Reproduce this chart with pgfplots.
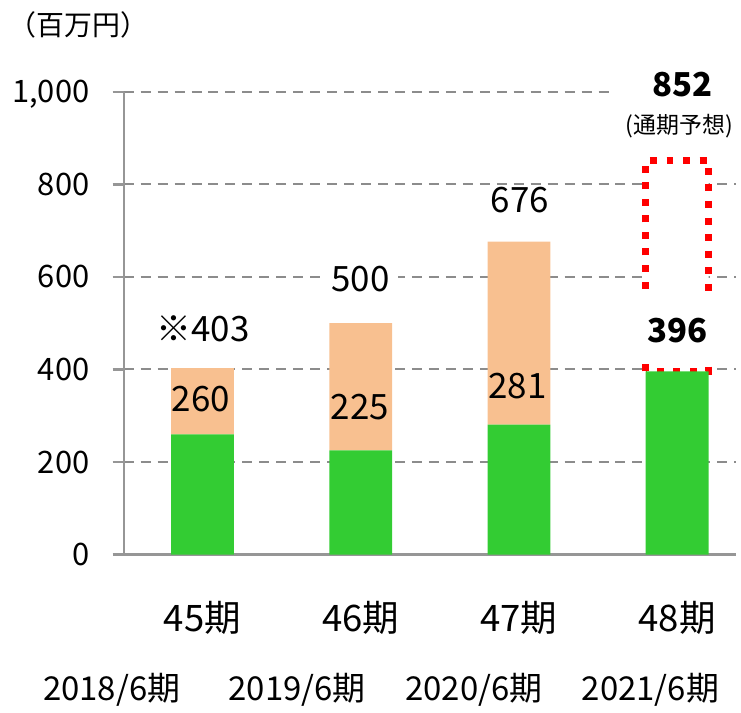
\documentclass[border=0pt]{standalone}
\usepackage{fontspec}
\setmainfont{Noto Sans CJK JP}
\usepackage{pgfplots}
\pgfplotsset{compat=1.18}
\definecolor{bargreen}{RGB}{51,204,51}
\definecolor{barpeach}{RGB}{248,192,144}
\definecolor{gridgray}{RGB}{140,140,140}
\definecolor{axgray}{RGB}{150,150,150}
\begin{document}
\begin{tikzpicture}
\begin{axis}[
  scale only axis, width=307pt, height=232pt,
  xmin=-0.498, xmax=3.373, ymin=0, ymax=1000,
  clip=false,
  ybar stacked, bar width=31.5pt,
  axis x line*=bottom, axis y line*=left,
  axis line style={axgray, line width=1.2pt},
  xtick={0,1,2,3}, xticklabels={45期,46期,47期,48期},
  xticklabel style={anchor=base, yshift=-33pt, font=\fontsize{18.3}{20}\selectfont},
  major x tick style={draw=none},
  ytick={0,200,400,600,800,1000},
  tick align=outside, major tick length=5.5pt,
  major y tick style={axgray, line width=1.2pt},
  ymajorgrids, major grid style={gridgray, line width=1pt, dash pattern=on 5pt off 3.5pt},
  yticklabel style={anchor=base east, inner sep=0pt, xshift=-11.5pt, yshift=-5.5pt, font=\fontsize{15.5}{18}\selectfont},
  /pgf/number format/assume math mode=true,
  /pgf/number format/1000 sep={,},
]
\addplot[fill=bargreen, draw=none] coordinates {(0,260) (1,225) (2,281) (3,396)};
\addplot[fill=barpeach, draw=none] coordinates {(0,143) (1,275) (2,395) (3,0)};
\addplot[sharp plot, stack plots=false, fill=white, draw=red, line width=3.5pt, dash pattern=on 3.5pt off 4.8pt, line cap=butt]
  coordinates {(2.8014,396) (2.8014,852) (3.1986,852) (3.1986,396) (2.8014,396)};

\coordinate (gap) at (axis cs:3,484);
\coordinate (l403) at (axis cs:0.003,461);
\coordinate (l260) at (axis cs:-0.01,310);
\coordinate (l225) at (axis cs:0.995,291);
\coordinate (l281) at (axis cs:1.99,338);
\coordinate (l500) at (axis cs:0.999,569);
\coordinate (l676) at (axis cs:2.005,739);
\coordinate (l396) at (axis cs:3.005,459);
\coordinate (l852) at (axis cs:3.035,989);
\coordinate (l852box) at (axis cs:3.0,989);
\coordinate (lfc) at (axis cs:3.014,909);
\coordinate (lunit) at (axis cs:-0.782,1121);
\coordinate (y1) at (axis cs:-0.574,-314.7);
\coordinate (y2) at (axis cs:0.599,-314.7);
\coordinate (y3) at (axis cs:1.715,-314.7);
\coordinate (y4) at (axis cs:2.831,-314.7);
\coordinate (bbA) at (axis cs:-1.2799,-318.97);
\coordinate (bbB) at (axis cs:3.3922,1198.3);
\end{axis}

% white gap behind 396
\node[fill=white, inner sep=0pt, minimum width=42pt, minimum height=33pt] at (gap) {};

\tikzset{dl/.style={anchor=base, font=\fontsize{17.5}{19}\selectfont}}
\node[dl] at (l403) {※403};
\node[dl] at (l260) {260};
\node[dl] at (l225) {225};
\node[dl] at (l281) {281};
\node[dl, fill=white, inner xsep=4pt, inner ysep=1pt, text height=12.5pt, text depth=0pt] at (l500) {500};
\node[dl] at (l676) {676};
\node[anchor=base, font=\bfseries\fontsize{16.5}{18}\selectfont] at (l396) {396};
\node[anchor=base, fill=white, minimum width=64pt, inner sep=0pt, text height=12.5pt, text depth=0pt] at (l852box) {};
\node[anchor=base, font=\bfseries\fontsize{16.5}{18}\selectfont] at (l852) {852};
\node[anchor=base, font=\fontsize{11.5}{13}\selectfont] at (lfc) {(通期予想)};

\node[anchor=base, font=\fontsize{14}{16}\selectfont] at (lunit) {（百万円）};

\tikzset{yl/.style={anchor=base, font=\fontsize{16.5}{19}\selectfont}}
\node[yl] at (y1) {2018/6期};
\node[yl] at (y2) {2019/6期};
\node[yl] at (y3) {2020/6期};
\node[yl] at (y4) {2021/6期};

\path (bbA) rectangle (bbB);
\end{tikzpicture}
\end{document}
